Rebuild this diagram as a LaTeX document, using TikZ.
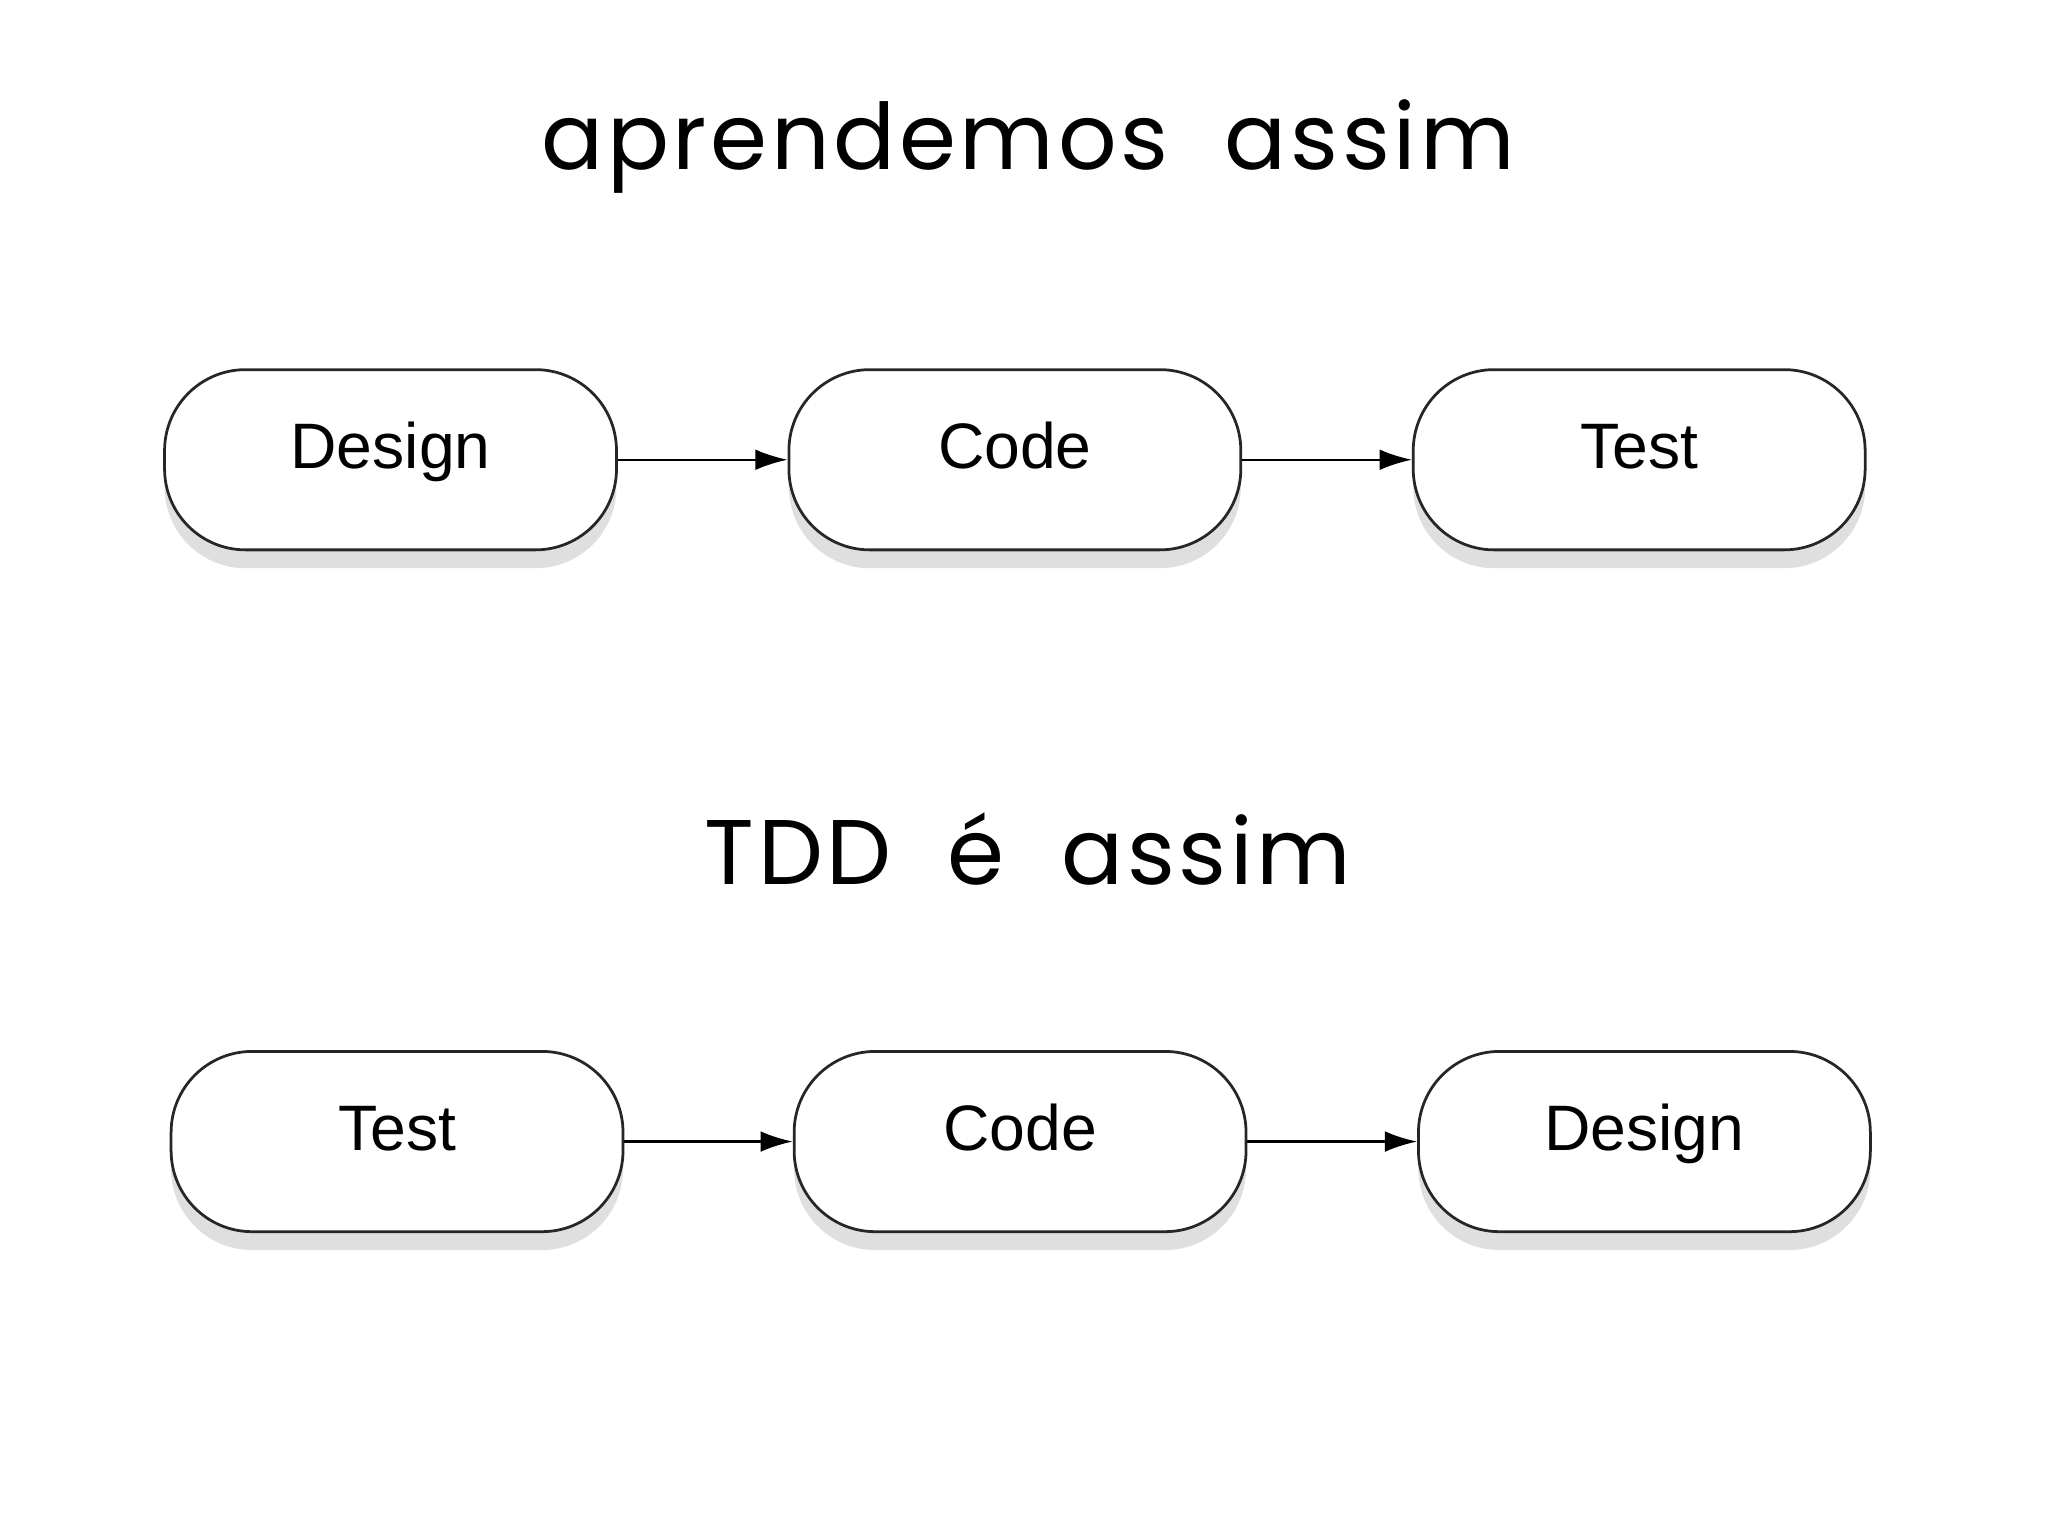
\documentclass[tikz,border=0pt]{standalone}
\usepackage{fontspec}
\setmainfont{Liberation Sans}
\newfontfamily\titlefont[LetterSpace=4]{Poppins}
\usetikzlibrary{shadows,arrows.meta}
\begin{document}
\begin{tikzpicture}[x=0.02cm,y=-0.02cm,
  stage/.style={draw=black!85,line width=1.2pt,rounded corners=62*0.02cm,fill=white,
    minimum width=346*0.02cm,minimum height=138*0.02cm,inner sep=0pt,
    font=\fontsize{28}{32}\selectfont,text height=0.9em,text depth=0.1em,
    drop shadow={shadow xshift=0pt,shadow yshift=-8pt,opacity=0.25,fill=black!50}},
  flow/.style={-{Latex[length=14pt,width=9pt]},line width=1pt},
  ttl/.style={font=\titlefont\fontsize{40}{46}\selectfont}]
\useasboundingbox (0,0) rectangle (1568,1175);
\node[ttl] (t1) at (787,112) {aprendemos\ \ assim};
\node[ttl] (t2) at (787,650) {TDD\ \ é\ \ assim};
\node[stage] (a1) at (299,352) {Design};
\node[stage] (a2) at (777,352) {Code};
\node[stage] (a3) at (1255,352) {Test};
\node[stage] (b1) at (304,874) {Test};
\node[stage] (b2) at (781,874) {Code};
\node[stage] (b3) at (1259,874) {Design};
\draw[flow] (a1) -- (a2);
\draw[flow] (a2) -- (a3);
\draw[flow] (b1) -- (b2);
\draw[flow] (b2) -- (b3);
\end{tikzpicture}
\end{document}
